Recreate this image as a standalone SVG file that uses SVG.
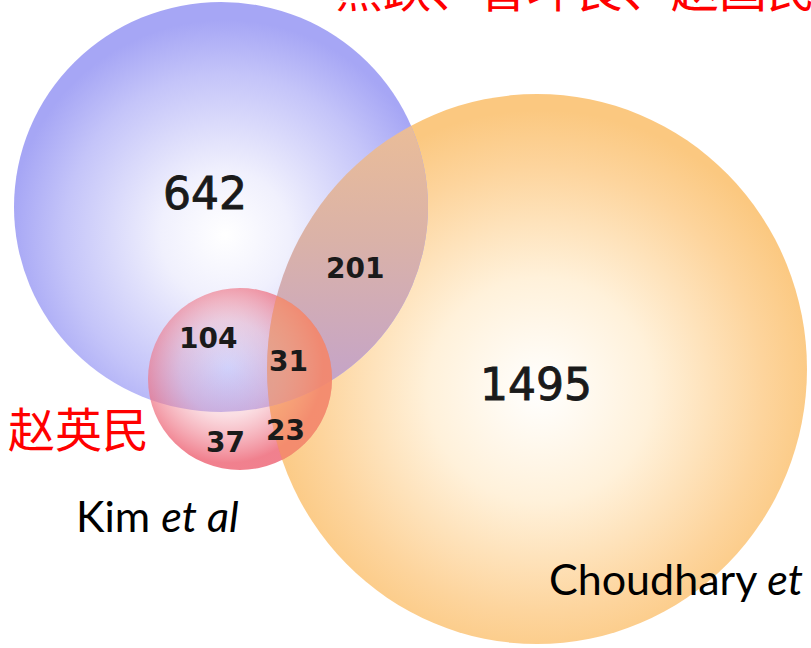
<svg xmlns="http://www.w3.org/2000/svg" width="811" height="648" viewBox="0 0 811 648">
<style>
.num{font-family:"DejaVu Sans",sans-serif;fill:#1a1a1a}
.sm{font-size:28px;font-weight:bold}
.big{font-size:44px;stroke:#1a1a1a;stroke-width:0.9}
.lab{font-family:Lato,"Open Sans",sans-serif;fill:#000;font-size:43px}
.cn{font-family:"Noto Sans CJK SC",sans-serif;fill:#ff0000}
</style>
<defs>
<radialGradient id="gOr" gradientUnits="userSpaceOnUse" cx="540" cy="390" r="280">
<stop offset="0" stop-color="#ffffff"/>
<stop offset="0.4" stop-color="#fff1da"/>
<stop offset="0.8" stop-color="#fdd49c"/>
<stop offset="1" stop-color="#fbc880"/>
</radialGradient>
<radialGradient id="gBl" gradientUnits="userSpaceOnUse" cx="225" cy="235" r="215">
<stop offset="0" stop-color="#ffffff"/>
<stop offset="0.3" stop-color="#f0f0fd"/>
<stop offset="0.75" stop-color="#c4c4f9"/>
<stop offset="1" stop-color="#a6a6f5"/>
</radialGradient>
<linearGradient id="gOv" gradientUnits="userSpaceOnUse" x1="0" y1="110" x2="0" y2="400">
<stop offset="0" stop-color="#ecbe96"/>
<stop offset="0.45" stop-color="#dab2a8"/>
<stop offset="1" stop-color="#c2a2cc"/>
</linearGradient>
<radialGradient id="gRd" gradientUnits="userSpaceOnUse" cx="228" cy="368" r="95">
<stop offset="0" stop-color="#f0a0b0" stop-opacity="0"/>
<stop offset="0.5" stop-color="#f090a0" stop-opacity="0.3"/>
<stop offset="1" stop-color="#ee6a7a" stop-opacity="0.85"/>
</radialGradient>
<clipPath id="cBl"><ellipse cx="221" cy="207" rx="207" ry="205"/></clipPath>
<clipPath id="cOr"><ellipse cx="537" cy="369" rx="270" ry="275"/></clipPath>
</defs>
<rect width="811" height="648" fill="#ffffff"/>
<g id="set-choudhary">
<ellipse cx="537" cy="369" rx="270" ry="275" fill="url(#gOr)"/>
</g>
<g id="set-blue">
<ellipse cx="221" cy="207" rx="207" ry="205" fill="url(#gBl)"/>
<ellipse cx="537" cy="369" rx="270" ry="275" fill="url(#gOv)" clip-path="url(#cBl)"/>
</g>
<g id="set-kim">
<ellipse cx="240" cy="379" rx="92" ry="91" fill="url(#gRd)"/>
<g clip-path="url(#cOr)">
<ellipse cx="240" cy="379" rx="92" ry="91" fill="#f7a060" fill-opacity="0.5"/>
</g>
</g>
<g id="numbers">
<text class="num big" x="163" y="209">642</text>
<text class="num sm" x="326" y="278">201</text>
<text class="num sm" x="179" y="348">104</text>
<text class="num sm" x="269" y="371">31</text>
<text class="num sm" x="266" y="440">23</text>
<text class="num sm" x="206" y="452">37</text>
<text class="num big" x="480" y="400">1495</text>
</g>
<g id="labels">
<text class="lab" x="76" y="532">Kim <tspan font-style="italic">et al</tspan></text>
<text class="lab" x="549" y="595">Choudhary <tspan font-style="italic">et</tspan></text>
<text class="cn" x="8" y="447" font-size="47">赵英民</text>
<text class="cn" x="335" y="7" font-size="48">熊跃、曾坪良、赵国民</text>
</g>
</svg>
